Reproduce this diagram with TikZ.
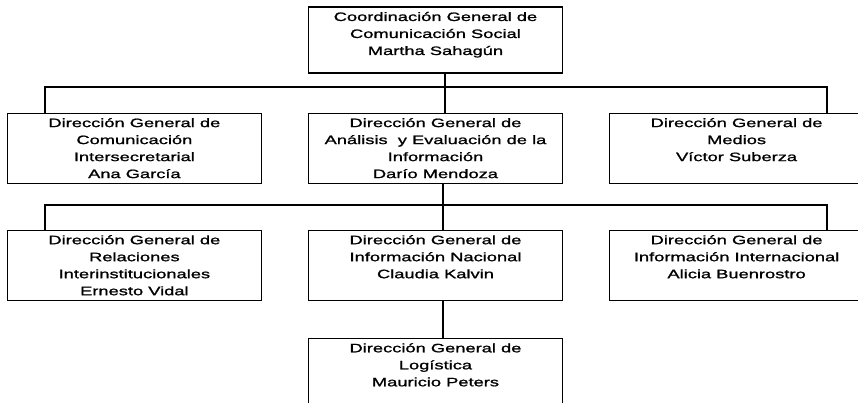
\documentclass[tikz,border=0pt]{standalone}
\usepackage{fontspec}
\setmainfont{Liberation Sans}[FakeStretch=1.5, FakeBold=1.3]
\usetikzlibrary{positioning}
\newcommand{\orgtxt}[2][60pt]{\parbox[c][#1][t]{236pt}{\centering #2}}

\begin{document}
\begin{tikzpicture}[
    x=1pt, y=-1pt,
    orgbox/.style={rectangle, draw=black, line width=1.1pt, minimum width=254pt,
        inner xsep=9pt, inner ysep=5pt, font=\fontsize{12.2}{17}\selectfont},
    link/.style={draw=black, line width=1.1pt},
    ]
    \useasboundingbox (0,0) rectangle (858,402);

    % coordinacion
    \node[orgbox] (cgcs) at (435.5,40) {\orgtxt[56pt]{Coordinación General de\\ Comunicación Social\\ Martha Sahagún}};

    % direcciones, first row
    \node[orgbox, below=39pt of cgcs]   (dg_aei) {\orgtxt{Dirección General de\\ Análisis~ y Evaluación de la\\ Información\\ Darío Mendoza}};
    \node[orgbox, left=46pt of dg_aei]  (dg_ci)  {\orgtxt{Dirección General de\\ Comunicación\\ Intersecretarial\\ Ana García}};
    \node[orgbox, right=46pt of dg_aei] (dg_m)   {\orgtxt{Dirección General de\\ Medios\\ Víctor Suberza}};

    % direcciones, second row
    \node[orgbox, below=46pt of dg_aei] (dg_in)  {\orgtxt{Dirección General de\\ Información Nacional\\ Claudia Kalvin}};
    \node[orgbox, left=46pt of dg_in]   (dg_ri)  {\orgtxt{Dirección General de\\ Relaciones\\ Interinstitucionales\\ Ernesto Vidal}};
    \node[orgbox, right=46pt of dg_in]  (dg_ii)  {\orgtxt{Dirección General de\\ Información Internacional\\ Alicia Buenrostro}};

    % logistica
    \node[orgbox, below=37pt of dg_in]  (dg_l)   {\orgtxt{Dirección General de\\ Logística\\ Mauricio Peters}};

    % first bus
    \coordinate (bus1_w) at (45,87);
    \coordinate (bus1_m) at (445,87);
    \coordinate (bus1_e) at (827,87);
    \draw[link] (bus1_w |- dg_ci.north) -- (bus1_w) -- (bus1_e) -- (bus1_e |- dg_m.north);
    \draw[link] (cgcs.south -| bus1_m) -- (dg_aei.north -| bus1_m);

    % second bus
    \coordinate (bus2_w) at (45,205);
    \coordinate (bus2_m) at (443,205);
    \coordinate (bus2_e) at (827,205);
    \draw[link] (bus2_w |- dg_ri.north) -- (bus2_w) -- (bus2_e) -- (bus2_e |- dg_ii.north);
    \draw[link] (dg_aei.south -| bus2_m) -- (dg_in.north -| bus2_m);
    \draw[link] (dg_in.south -| bus2_m) -- (dg_l.north -| bus2_m);
\end{tikzpicture}
\end{document}
